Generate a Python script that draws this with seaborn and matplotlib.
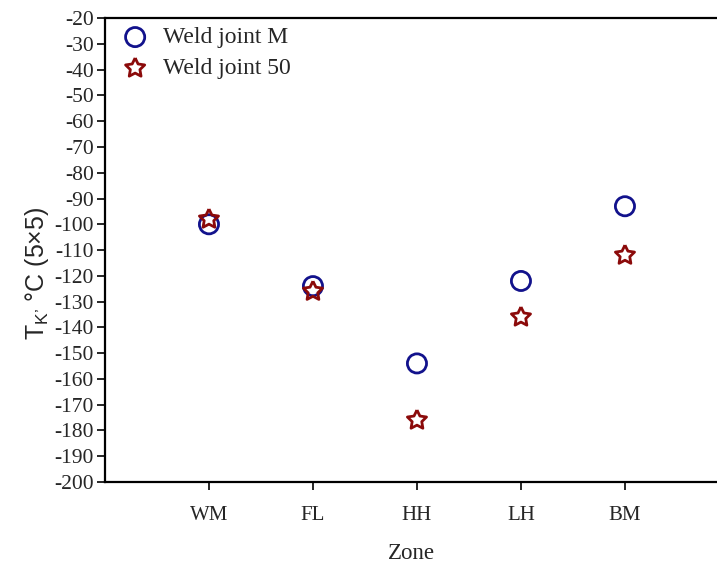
import matplotlib
matplotlib.use("Agg")
import matplotlib.pyplot as plt
import seaborn as sns
import numpy as np
import pandas as pd

zones = ["WM", "FL", "HH", "LH", "BM"]
weld_m = [-100, -124, -154, -122, -93]
weld_50 = [-98, -126, -176, -136, -112]
series_names = ["Weld joint M", "Weld joint 50"]
y_ticks = list(range(-200, -19, 10))

sns.set_style("ticks")
serif = ["Liberation Serif", "DejaVu Serif"]
sans = ["Liberation Sans", "DejaVu Sans"]
plt.rcParams["font.family"] = serif
plt.rcParams["mathtext.fontset"] = "custom"
plt.rcParams["mathtext.rm"] = "Liberation Sans"
plt.rcParams["mathtext.it"] = "Liberation Sans"

fig = plt.figure(figsize=(7.17, 5.67), dpi=100)
ax = fig.add_axes([0.1464, 0.150, 0.8536, 0.818])

# fat five-point star marker
ang_o = np.pi / 2 + np.arange(5) * 2 * np.pi / 5
ang_i = ang_o + np.pi / 5
verts = []
for a, b in zip(ang_o, ang_i):
    verts.append((np.cos(a), np.sin(a)))
    verts.append((0.5 * np.cos(b), 0.5 * np.sin(b)))
verts.append(verts[0])

df_m = pd.DataFrame({"zone": zones, "val": weld_m})
df_50 = pd.DataFrame({"zone": zones, "val": weld_50})

sns.scatterplot(data=df_m, x="zone", y="val", marker="o", s=190,
                facecolor="none", edgecolor="#12128c", linewidth=2.0,
                label=series_names[0], ax=ax, zorder=3)
sns.scatterplot(data=df_50, x="zone", y="val", marker=verts, s=210,
                facecolor="none", edgecolor="#8b0a0a", linewidth=2.0,
                label=series_names[1], ax=ax, zorder=4)

ax.set_xlim(-1, 4.885)
ax.set_ylim(-200, -20)
ax.set_yticks(y_ticks)
ax.set_yticklabels([str(t) for t in y_ticks])

for s in ["left", "bottom", "top"]:
    ax.spines[s].set_linewidth(1.6)
    ax.spines[s].set_color("black")
ax.spines["right"].set_visible(False)

ax.tick_params(axis="y", direction="out", length=6, width=1.4, labelsize=15.5, pad=2)
ax.tick_params(axis="x", direction="out", length=6, width=1.4, labelsize=15, pad=11)
ax.tick_params(top=False, right=False)

ax.set_xlabel("Zone", fontsize=16.5, labelpad=13)
ax.set_ylabel("T$_{\\mathregular{K’}}$ °C (5×5)", fontsize=18, family=sans, labelpad=2)
ax.yaxis.label.set_y(0.45)

leg = ax.legend(loc="upper left", frameon=False, fontsize=17,
                handletextpad=0.6, borderaxespad=0.2, labelspacing=0.4,
                handlelength=1.2, bbox_to_anchor=(0.003, 1.012))

fig.savefig("out.png", dpi=100)
